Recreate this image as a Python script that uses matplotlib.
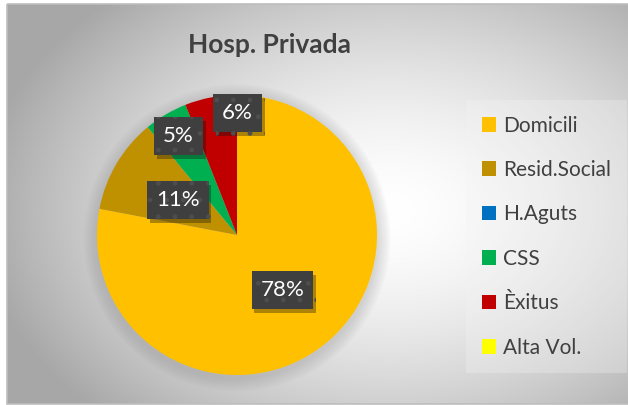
import numpy as np
import matplotlib
matplotlib.use("Agg")
import matplotlib.pyplot as plt
from matplotlib.patches import Patch, Rectangle, Circle
import matplotlib.patheffects as pe

plt.rcParams['font.family'] = ['Lato', 'DejaVu Sans']
plt.rcParams['hatch.linewidth'] = 1.0

title = 'Hosp. Privada'
categories = ['Domicili', 'Resid.Social', 'H.Aguts', 'CSS', 'Èxitus', 'Alta Vol.']
values = [78, 11, 0, 5, 6, 0]
colors = ['#FFC000', '#BF9000', '#0070C0', '#00B050', '#C00000', '#FFFF00']

# label placement per wedge (radius fraction, angle tweak in degrees)
label_dist = [0.51, 0.49, 0.0, 0.82, 0.87, 0.0]
label_shift = [0, 0, 0, 0, -11, 0]

W, H = 628, 405
fig = plt.figure(figsize=(W / 100, H / 100), dpi=100)
fig.patch.set_facecolor('white')

# radial gradient background of the chart area
bg = fig.add_axes([0, 0, 1, 1])
bg.axis('off')
x0, y0, x1, y1 = 7, 4, 630, 404
xx, yy = np.meshgrid(np.linspace(x0, x1, 300), np.linspace(y0, y1, 200))
d = np.sqrt(((xx - 390) / 330) ** 2 + ((yy - 210) / 230) ** 2)
shade = 1.0 - 0.24 * np.clip(d, 0, 1.25) ** 1.6
bg.imshow(np.dstack([shade] * 3), extent=(x0, x1, y1, y0), aspect='auto',
          interpolation='bilinear', vmin=0, vmax=1)
bg.add_patch(Rectangle((x0, y0), x1 - x0, y1 - y0, fill=False, ec='#bdbdbd', lw=1.2))
bg.set_xlim(0, W)
bg.set_ylim(H, 0)

fig.text(269 / W, 1 - 45 / H, title, ha='center', va='center', fontsize=19,
         fontweight='bold', color='#404040')

# pie axes: center (237, 235) px, radius 140 px
cx, cy, r = 237, 235, 140
ax = fig.add_axes([(cx - r) / W, (H - cy - r) / H, 2 * r / W, 2 * r / H])

for k in range(8):
    ax.add_patch(Circle((0.0, -0.02), 1.0 + 0.012 * (k + 1), color='#808080',
                        alpha=0.035, lw=0, zorder=0, clip_on=False))

wedges, _ = ax.pie(values, colors=colors, startangle=90, counterclock=False,
                   radius=1.0, wedgeprops=dict(linewidth=0), frame=True)
ax.set_xlim(-1, 1)
ax.set_ylim(-1, 1)
ax.axis('off')

for w, v, dist, shift in zip(wedges, values, label_dist, label_shift):
    if v == 0:
        continue
    ang = np.deg2rad((w.theta1 + w.theta2) / 2 + shift)
    t = ax.text(dist * np.cos(ang), dist * np.sin(ang), f'{v}%', ha='center',
                va='center', fontsize=16, color='white', zorder=5,
                bbox=dict(boxstyle='square,pad=0.4', fc='#3f3f3f', ec='#4e4e4e',
                          lw=0, hatch='.'))
    t.get_bbox_patch().set_path_effects(
        [pe.SimplePatchShadow(offset=(2, -3), alpha=0.35), pe.Normal()])

handles = [Patch(facecolor=c, edgecolor='none') for c in colors]
leg = fig.legend(handles, categories, loc='upper left',
                 bbox_to_anchor=(466 / W, 1 - 100 / H), frameon=True,
                 fontsize=15, handlelength=0.7, handleheight=0.7,
                 handletextpad=0.35, labelspacing=1.17, borderpad=0.75,
                 borderaxespad=0, fancybox=False)
leg.get_frame().set_facecolor('#f4f4f4')
leg.get_frame().set_alpha(0.3)
leg.get_frame().set_edgecolor('none')
for txt in leg.get_texts():
    txt.set_color('#404040')

fig.savefig('out.png', dpi=100)
